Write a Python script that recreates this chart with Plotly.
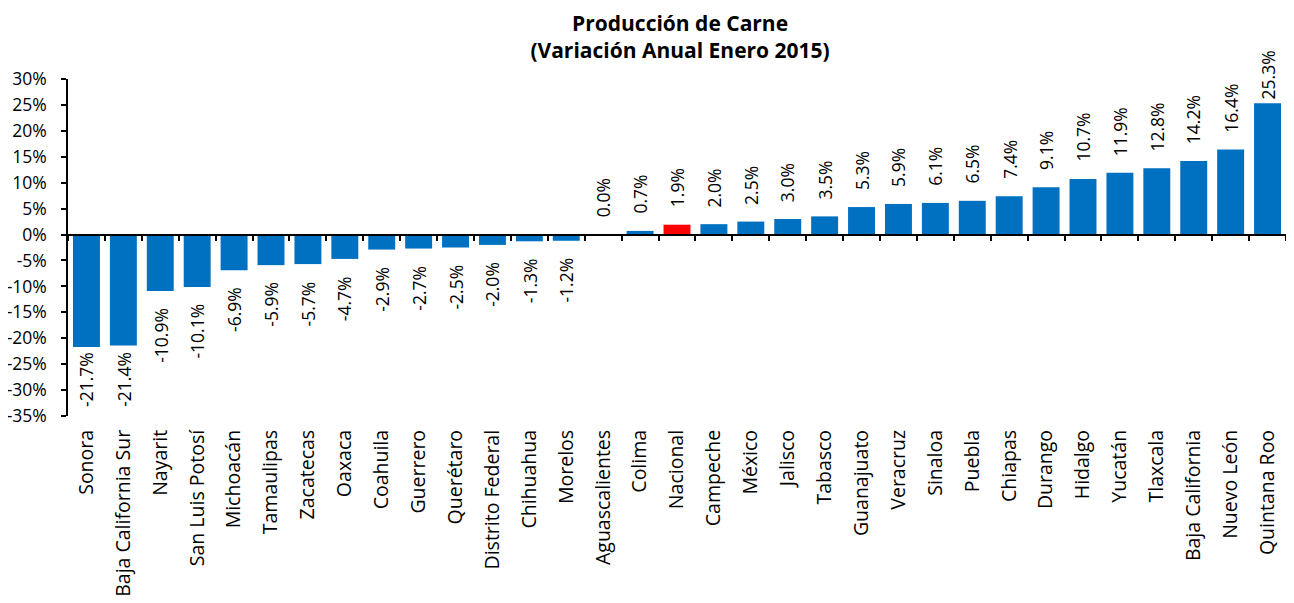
import plotly.graph_objects as go

categories = ["Sonora", "Baja California Sur", "Nayarit", "San Luis Potosí", "Michoacán",
              "Tamaulipas", "Zacatecas", "Oaxaca", "Coahuila", "Guerrero", "Querétaro",
              "Distrito Federal", "Chihuahua", "Morelos", "Aguascalientes", "Colima",
              "Nacional", "Campeche", "México", "Jalisco", "Tabasco", "Guanajuato",
              "Veracruz", "Sinaloa", "Puebla", "Chiapas", "Durango", "Hidalgo", "Yucatán",
              "Tlaxcala", "Baja California", "Nuevo León", "Quintana Roo"]
values = [-21.7, -21.4, -10.9, -10.1, -6.9, -5.9, -5.7, -4.7, -2.9, -2.7, -2.5,
          -2.0, -1.3, -1.2, 0.0, 0.7, 1.9, 2.0, 2.5, 3.0, 3.5, 5.3, 5.9, 6.1, 6.5,
          7.4, 9.1, 10.7, 11.9, 12.8, 14.2, 16.4, 25.3]
highlight = "Nacional"
y_ticks = list(range(-35, 31, 5))
Y_MIN, Y_MAX = -35, 30

FONT = "Open Sans"
LABEL_SIZE = 17.5
PLOT_H = 337  # plot area height in px
GAP = 15      # px between bar end and its label
colors = ["#FF0000" if c == highlight else "#0070C0" for c in categories]
labels = [f"{v:.1f}%" for v in values]

fig = go.Figure()
fig.add_trace(go.Bar(
    x=categories, y=values, marker_color=colors, marker_line_width=0,
    showlegend=False,
))
# invisible trace for the zero-line axis
fig.add_trace(go.Bar(x=categories, y=[None] * len(categories), xaxis="x2",
                     showlegend=False, hoverinfo="skip"))

# value labels, rotated, just beyond each bar end (gap shrinks near the plot edge)
px_per_unit = PLOT_H / (Y_MAX - Y_MIN)
for c, v, s in zip(categories, values, labels):
    text_px = len(s) * 0.6 * LABEL_SIZE
    room = (Y_MAX - v if v >= 0 else v - Y_MIN) * px_per_unit - text_px - 3
    gap = max(2, min(GAP, room))
    fig.add_annotation(
        x=c, y=v, text=s, showarrow=False, textangle=-90,
        yanchor="bottom" if v >= 0 else "top",
        yshift=gap if v >= 0 else -gap,
        font=dict(family=FONT, size=LABEL_SIZE, color="black"),
    )

fig.update_layout(
    width=1286, height=595,
    margin=dict(l=60, r=8, t=71, b=187, autoexpand=False),
    paper_bgcolor="white", plot_bgcolor="white",
    bargap=0.27,
    title=dict(text="<b>Producción de Carne<br>(Variación Anual Enero 2015)</b>",
               x=0.5226, xanchor="center", y=0.962, yanchor="middle",
               yref="container",
               font=dict(family=FONT, size=21, color="black")),
    font=dict(family=FONT, color="black"),
    xaxis=dict(type="category", categoryorder="array", categoryarray=categories,
               tickangle=-90, tickfont=dict(family=FONT, size=19.5, color="black"),
               ticks="", showline=False, showgrid=False, zeroline=False,
               automargin=False, ticklabelstandoff=9),
    xaxis2=dict(type="category", categoryorder="array", categoryarray=categories,
                overlaying="x", matches="x", anchor="free", position=35 / 65,
                showticklabels=False, ticks="outside", tickson="boundaries",
                ticklen=6, tickcolor="black", tickwidth=1.5,
                showline=True, linecolor="black", linewidth=1.5, showgrid=False),
    yaxis=dict(range=[Y_MIN, Y_MAX], tickvals=y_ticks, ticktext=[f"{t}%" for t in y_ticks],
               tickfont=dict(family=FONT, size=17.5, color="black"),
               ticks="outside", ticklen=5, tickcolor="black", tickwidth=1.5,
               showline=True, linecolor="black", linewidth=1.5,
               showgrid=False, zeroline=False, automargin=False,
               ticklabelstandoff=11),
)

fig.write_html("out.html")
